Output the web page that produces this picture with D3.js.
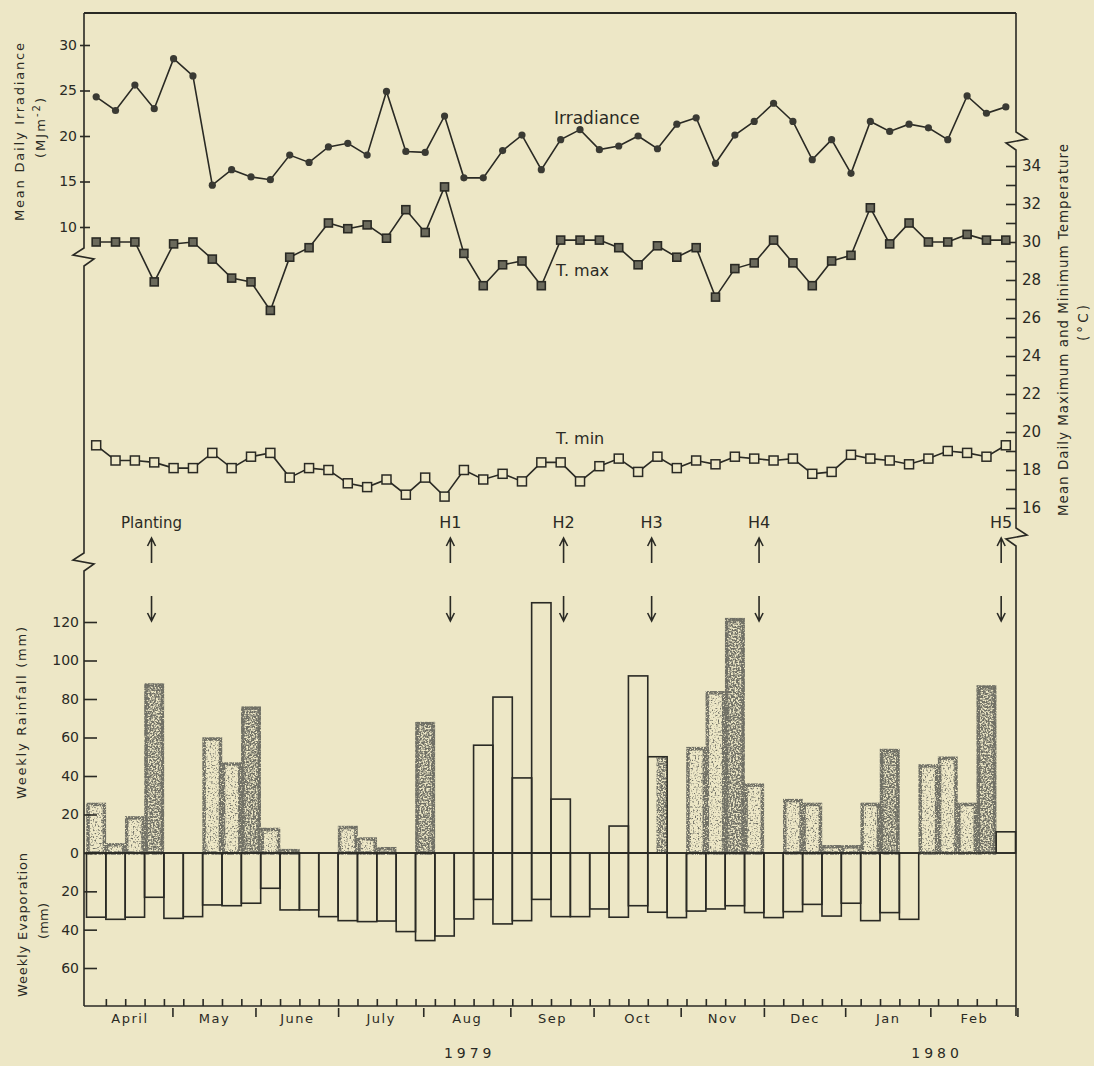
<!DOCTYPE html>
<html>
<head>
<meta charset="utf-8">
<script src="https://cdn.jsdelivr.net/npm/d3@7"></script>
<style>
  body { margin: 0; background: #ede7c6; }
  svg { display: block; }
  text { font-family: "DejaVu Sans", sans-serif; fill: #2a2a24; }
  .axis text { font-size: 14px; }
  .axis line { stroke: #2a2a24; stroke-width: 1.6; }
  .axis path.domain { display: none; }
</style>
</head>
<body>
<svg id="chart" width="1094" height="1066"></svg>
<script>
// weekly values, April 1979 - Feb 1980
var irradiance = [24.3,22.8,25.6,23.0,28.5,26.6,14.6,16.3,15.5,15.2,17.9,17.1,18.8,19.2,17.9,24.9,
  18.3,18.2,22.2,15.4,15.4,18.4,20.1,16.3,19.6,20.7,18.5,18.9,20.0,18.6,21.3,22.0,
  17.0,20.1,21.6,23.6,21.6,17.4,19.6,15.9,21.6,20.5,21.3,20.9,19.6,24.4,22.5,23.2];
var tMax = [30.0,30.0,30.0,27.9,29.9,30.0,29.1,28.1,27.9,26.4,29.2,29.7,31.0,30.7,30.9,30.2,
  31.7,30.5,32.9,29.4,27.7,28.8,29.0,27.7,30.1,30.1,30.1,29.7,28.8,29.8,29.2,29.7,
  27.1,28.6,28.9,30.1,28.9,27.7,29.0,29.3,31.8,29.9,31.0,30.0,30.0,30.4,30.1,30.1];
var tMin = [19.3,18.5,18.5,18.4,18.1,18.1,18.9,18.1,18.7,18.9,17.6,18.1,18.0,17.3,17.1,17.5,
  16.7,17.6,16.6,18.0,17.5,17.8,17.4,18.4,18.4,17.4,18.2,18.6,17.9,18.7,18.1,18.5,
  18.3,18.7,18.6,18.5,18.6,17.8,17.9,18.8,18.6,18.5,18.3,18.6,19.0,18.9,18.7,19.3];
var rainfall = [26,5,19,88,0,0,60,47,76,13,2,0,0,14,8,3,0,68,0,0,56,81,39,130,
  28,0,0,14,92,50,0,55,84,122,36,0,28,26,4,4,26,54,0,46,50,26,87,11];
// 0 open, 1 light stipple, 2 dark stipple, 3 part shaded
var rainShade = [1,1,1,2,0,0,1,1,2,1,1,0,0,1,1,1,0,2,0,0,0,0,0,0,
  0,0,0,0,0,3,0,1,1,2,1,0,1,1,1,1,1,2,0,1,1,1,2,0];
var evaporation = [33.5,34.6,33.5,23.1,34.1,33.2,27.1,27.5,26.2,18.4,29.7,29.7,33.2,35.3,35.8,
  35.5,41.0,45.7,43.3,34.4,24.2,37.0,35.3,24.2,33.2,33.2,29.2,33.5,27.5,30.9,33.7,
  30.3,29.2,27.5,31.1,33.7,30.6,26.8,32.9,26.2,35.3,31.1,34.6];
var months = ["April","May","June","July","Aug","Sep","Oct","Nov","Dec","Jan","Feb"];
var monthEnds = [4.44,8.73,13.0,17.4,21.9,26.2,30.7,35.0,39.2,43.6,48.1];
var years = [{label: "1979", at: 19.8}, {label: "1980", at: 43.95}];
var events = [{name: "Planting", at: 3.36}, {name: "H1", at: 18.8}, {name: "H2", at: 24.65},
  {name: "H3", at: 29.2}, {name: "H4", at: 34.75}, {name: "H5", at: 47.26}];
var irrTicks = [10,15,20,25,30];
var tempTicks = [16,18,20,22,24,26,28,30,32,34];
var rainTicks = [0,20,40,60,80,100,120];
var evapTicks = [20,40,60];

var ink = "#2a2a24", paper = "#ede7c6";
var svg = d3.select("#chart");
var plotLeft = 84, plotRight = 1016, plotTop = 13, plotBottom = 1006;

var x = d3.scaleLinear().domain([0, 48]).range([86.5, 1015.5]);
var w = x(1) - x(0);
var yIrr = d3.scaleLinear().domain([10, 30]).range([227, 45]);
var yT = d3.scaleLinear().domain([16, 34]).range([508, 166]);
var yRain = d3.scaleLinear().domain([0, 120]).range([853, 622]);
var yEvap = d3.scaleLinear().domain([0, 60]).range([853, 968]);

// stipple filters for the shaded rain bars
var defs = svg.append("defs");
function stipple(id, k, t, seed, freq) {
  var f = defs.append("filter").attr("id", id)
    .attr("filterUnits", "userSpaceOnUse")
    .attr("x", 0).attr("y", 0).attr("width", 1094).attr("height", 1066);
  f.append("feTurbulence").attr("type", "fractalNoise")
    .attr("baseFrequency", freq).attr("numOctaves", 2).attr("seed", seed).attr("result", "n");
  f.append("feColorMatrix").attr("in", "n").attr("type", "matrix")
    .attr("values", "0 0 0 0 0.16 0 0 0 0 0.16 0 0 0 0 0.13 " + k + " 0 0 0 " + (-k * t))
    .attr("result", "d");
  f.append("feComposite").attr("in", "d").attr("in2", "SourceGraphic").attr("operator", "in");
}
stipple("st1", 4, 0.52, 3, 0.6);
stipple("st2", 4, 0.35, 5, 0.6);
stipple("edge", 5, 0.30, 9, 0.7);

var rainData = rainfall.map(function(v, i) { return {i: i, v: v, s: rainShade[i]}; })
  .filter(function(d) { return d.v > 0; });

// shaded fills
[1, 2].forEach(function(lv) {
  svg.append("g").attr("filter", "url(#st" + lv + ")")
    .selectAll("rect").data(rainData.filter(function(d) { return d.s === lv; }))
    .join("rect")
    .attr("x", function(d) { return x(d.i); })
    .attr("y", function(d) { return yRain(d.v); })
    .attr("width", w)
    .attr("height", function(d) { return yRain(0) - yRain(d.v); })
    .attr("fill", "#000");
});
svg.append("g").attr("filter", "url(#st2)")
  .selectAll("rect").data(rainData.filter(function(d) { return d.s === 3; }))
  .join("rect")
  .attr("x", function(d) { return x(d.i) + w * 0.45; })
  .attr("y", function(d) { return yRain(d.v); })
  .attr("width", w * 0.55)
  .attr("height", function(d) { return yRain(0) - yRain(d.v); })
  .attr("fill", "#000");
// fuzzy edges of shaded bars
svg.append("g").attr("filter", "url(#edge)")
  .selectAll("rect").data(rainData.filter(function(d) { return d.s === 1 || d.s === 2; }))
  .join("rect")
  .attr("x", function(d) { return x(d.i) + 1.5; })
  .attr("y", function(d) { return yRain(d.v) + 1.5; })
  .attr("width", w - 3)
  .attr("height", function(d) { return yRain(0) - yRain(d.v) - 1.5; })
  .attr("fill", "none").attr("stroke", "#000").attr("stroke-width", 3.5);
// open bars
svg.append("g")
  .selectAll("rect").data(rainData.filter(function(d) { return d.s === 0 || d.s === 3; }))
  .join("rect")
  .attr("x", function(d) { return x(d.i); })
  .attr("y", function(d) { return yRain(d.v); })
  .attr("width", w)
  .attr("height", function(d) { return yRain(0) - yRain(d.v); })
  .attr("fill", "none").attr("stroke", ink).attr("stroke-width", 1.6);

// evaporation bars (downwards)
svg.append("g")
  .selectAll("rect").data(evaporation)
  .join("rect")
  .attr("x", function(d, i) { return x(i); })
  .attr("y", yEvap(0))
  .attr("width", w)
  .attr("height", function(d) { return yEvap(d) - yEvap(0); })
  .attr("fill", "none").attr("stroke", ink).attr("stroke-width", 1.6);

// frame with axis breaks
function brokenLine(xx, pieces, dir) {
  var pts = [];
  pieces.forEach(function(p) {
    if (p.brk) {
      pts.push([xx, p.y - 9], [xx - 11 * dir, p.y - 2], [xx + 10 * dir, p.y + 2], [xx, p.y + 9]);
    } else {
      pts.push([xx, p.y]);
    }
  });
  svg.append("path").attr("d", d3.line()(pts))
    .attr("fill", "none").attr("stroke", ink).attr("stroke-width", 1.6);
}
brokenLine(plotLeft, [{y: plotTop}, {y: 257, brk: true}, {y: 562, brk: true}, {y: plotBottom}], 1);
brokenLine(plotRight, [{y: plotTop}, {y: 141, brk: true}, {y: 537, brk: true}, {y: plotBottom + 10}], -1);
svg.append("line").attr("x1", plotLeft).attr("x2", plotRight).attr("y1", plotTop).attr("y2", plotTop)
  .attr("stroke", ink).attr("stroke-width", 1.8);
svg.append("line").attr("x1", plotLeft).attr("x2", plotRight).attr("y1", plotBottom).attr("y2", plotBottom)
  .attr("stroke", ink).attr("stroke-width", 1.6);
svg.append("line").attr("x1", plotLeft).attr("x2", plotRight).attr("y1", yRain(0)).attr("y2", yRain(0))
  .attr("stroke", ink).attr("stroke-width", 1.6);

// y axes
svg.append("g").attr("class", "axis").attr("transform", "translate(80,0)")
  .call(d3.axisLeft(yIrr).tickValues(irrTicks).tickSizeInner(-10).tickSizeOuter(0).tickPadding(3));
svg.append("g").attr("class", "axis").attr("transform", "translate(" + plotLeft + ",0)")
  .call(d3.axisLeft(yRain).tickValues(rainTicks).tickSizeInner(-13).tickSizeOuter(0).tickPadding(5));
svg.append("g").attr("class", "axis").attr("transform", "translate(" + plotLeft + ",0)")
  .call(d3.axisLeft(yEvap).tickValues(evapTicks).tickSizeInner(-13).tickSizeOuter(0).tickPadding(5));
svg.append("g").attr("class", "axis").attr("transform", "translate(" + plotRight + ",0)")
  .call(d3.axisRight(yT).tickValues(tempTicks).tickSizeInner(-10).tickSizeOuter(0).tickPadding(6))
  .selectAll("text").style("font-size", "15px");
svg.append("g").attr("class", "axis").attr("transform", "translate(" + plotRight + ",0)")
  .call(d3.axisRight(yT).tickValues(d3.range(17, 35, 2)).tickSizeInner(-10).tickSizeOuter(0).tickFormat(""));

// x axis: weekly ticks up, month ticks down, labels in between
svg.append("g").attr("class", "axis").attr("transform", "translate(0," + plotBottom + ")")
  .call(d3.axisBottom(x).tickValues(d3.range(1, 48)).tickSizeInner(-7).tickSizeOuter(0).tickFormat(""));
svg.append("g").attr("class", "axis").attr("transform", "translate(0," + (plotBottom + 2) + ")")
  .call(d3.axisBottom(x).tickValues(monthEnds).tickSizeInner(9).tickSizeOuter(0).tickFormat(""));
var mids = monthEnds.map(function(m, i) { return (m + (i ? monthEnds[i - 1] : 0)) / 2; });
svg.append("g").attr("class", "axis").attr("transform", "translate(0," + (plotBottom + 2) + ")")
  .call(d3.axisBottom(x).tickValues(mids).tickSize(0).tickPadding(6)
    .tickFormat(function(d, i) { return months[i]; }))
  .selectAll("text").style("font-size", "13px").style("letter-spacing", "1.5px");
svg.append("g").selectAll("text").data(years).join("text")
  .attr("x", function(d) { return x(d.at); }).attr("y", 1058)
  .attr("text-anchor", "middle").style("font-size", "14px").style("letter-spacing", "4px")
  .text(function(d) { return d.label; });

// lines
var lineStyle = function(sel) {
  sel.attr("fill", "none").attr("stroke", ink).attr("stroke-width", 1.6);
};
var cx = function(d, i) { return x(i + 0.5); };
svg.append("path").datum(irradiance).call(lineStyle)
  .attr("d", d3.line().x(cx).y(function(d) { return yIrr(d); }));
svg.append("path").datum(tMax).call(lineStyle)
  .attr("d", d3.line().x(cx).y(function(d) { return yT(d); }));
svg.append("path").datum(tMin).call(lineStyle)
  .attr("d", d3.line().x(cx).y(function(d) { return yT(d); }));

svg.append("g").selectAll("circle").data(irradiance).join("circle")
  .attr("cx", cx).attr("cy", function(d) { return yIrr(d); }).attr("r", 3.6)
  .attr("fill", "#3a3a33");
svg.append("g").selectAll("rect").data(tMax).join("rect")
  .attr("x", function(d, i) { return cx(d, i) - 4; }).attr("y", function(d) { return yT(d) - 4; })
  .attr("width", 8).attr("height", 8)
  .attr("fill", "#6b6a5c").attr("stroke", ink).attr("stroke-width", 1.6);
svg.append("g").selectAll("rect").data(tMin).join("rect")
  .attr("x", function(d, i) { return cx(d, i) - 4.5; }).attr("y", function(d) { return yT(d) - 4.5; })
  .attr("width", 9).attr("height", 9)
  .attr("fill", paper).attr("stroke", ink).attr("stroke-width", 1.5);

// series labels
svg.append("text").attr("x", 554).attr("y", 124).style("font-size", "17px").text("Irradiance");
svg.append("text").attr("x", 556).attr("y", 276).style("font-size", "16px").text("T. max");
svg.append("text").attr("x", 556).attr("y", 444).style("font-size", "16px").text("T. min");

// planting and harvest markers
var ev = svg.append("g").selectAll("g").data(events).join("g")
  .attr("transform", function(d) { return "translate(" + x(d.at) + ",0)"; });
ev.append("text").attr("y", 528).attr("text-anchor", "middle")
  .style("font-size", function(d) { return d.name === "Planting" ? "15px" : "16px"; })
  .text(function(d) { return d.name; });
ev.append("path").attr("d", "M0,563V538M-4,546L0,538L4,546")
  .attr("fill", "none").attr("stroke", ink).attr("stroke-width", 1.6);
ev.append("path").attr("d", "M0,596V621M-4,613L0,621L4,613")
  .attr("fill", "none").attr("stroke", ink).attr("stroke-width", 1.6);

// axis titles
function vtitle(tx, ty, size, len, parts) {
  var t = svg.append("text").attr("transform", "translate(" + tx + "," + ty + ") rotate(-90)")
    .attr("text-anchor", "middle").style("font-size", size + "px");
  if (len) t.attr("textLength", len).attr("lengthAdjust", "spacing");
  parts.forEach(function(p) {
    var s = t.append("tspan").text(p.t);
    if (p.sup) s.attr("baseline-shift", "super").style("font-size", (size - 3) + "px");
  });
}
vtitle(24, 132, 13, 178, [{t: "Mean  Daily  Irradiance"}]);
vtitle(45, 128, 13, 60, [{t: "(MJm"}, {t: "-2", sup: true}, {t: ")"}]);
vtitle(26, 713, 13, 172, [{t: "Weekly   Rainfall (mm)"}]);
vtitle(27, 925, 13, 144, [{t: "Weekly  Evaporation"}]);
vtitle(48, 921, 13, 36, [{t: "(mm)"}]);
vtitle(1068, 330, 13.5, 372, [{t: "Mean Daily Maximum and Minimum Temperature"}]);
vtitle(1088, 323, 13.5, 36, [{t: "(°C)"}]);
</script>
</body>
</html>
